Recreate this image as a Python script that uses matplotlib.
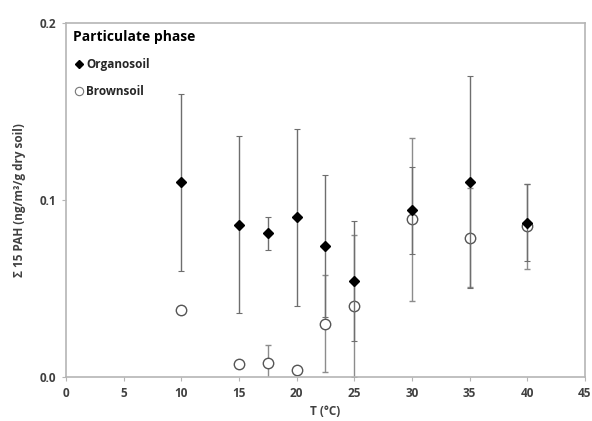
import numpy as np
import matplotlib.pyplot as plt
from matplotlib.lines import Line2D

# Температуры и значения
temp = [10, 15, 17.5, 20, 22.5, 25, 30, 35, 40]

organo = [0.110, 0.086, 0.081, 0.090, 0.074, 0.054, 0.094, 0.110, 0.087]
organo_err = [0.050, 0.050, 0.0095, 0.050, 0.040, 0.034, 0.0245, 0.060, 0.0217]

brown = [0.038, 0.007, 0.008, 0.0036, 0.030, 0.040, 0.089, 0.0785, 0.085]
brown_err = [0.002, 0.0, 0.010, 0.002, 0.0275, 0.040, 0.046, 0.028, 0.024]

xticks = [0, 5, 10, 15, 20, 25, 30, 35, 40, 45]
yticks = [0.0, 0.1, 0.2]

plt.rcParams['font.family'] = ['Open Sans', 'DejaVu Sans']

fig = plt.figure(figsize=(5.92, 4.21), dpi=100)
ax = fig.add_axes([0.1115, 0.105, 0.8765, 0.841])

#Ошибки
ax.errorbar(temp, brown, yerr=brown_err, fmt='o', mfc='white', mec='#555555',
            mew=1.0, ms=7.5, ecolor='#8c8c8c', elinewidth=1.0, capsize=2.5,
            capthick=0.8, zorder=2)
ax.errorbar(temp, organo, yerr=organo_err, fmt='D', color='black', ms=5.5,
            ecolor='#6e6e6e', elinewidth=1.0, capsize=2.5, capthick=0.8,
            zorder=3)

ax.set_xlim(0, 45)
ax.set_ylim(0, 0.2)
ax.set_xticks(xticks)
ax.set_yticks(yticks)
ax.set_yticklabels([f"{v:.1f}" for v in yticks])

for lab in ax.get_xticklabels() + ax.get_yticklabels():
    lab.set_fontweight('bold')
    lab.set_color('#404040')
    lab.set_fontsize(8.5)

for s in ax.spines.values():
    s.set_color('#b5b5b5')
    s.set_linewidth(1.2)
ax.tick_params(colors='#b5b5b5', length=3, width=0.8, labelcolor='#404040', pad=4)

ax.set_xlabel("T (°C)", fontsize=8.5, fontweight='bold', color='#404040', labelpad=4)
ax.set_ylabel("Σ 15 PAH (ng/m³/g dry soil)", fontsize=8.5, fontweight='bold',
              color='#404040', labelpad=10)

#Легенда без линий ошибок
handles = [
    Line2D([], [], ls='none', marker='D', color='black', ms=4.5),
    Line2D([], [], ls='none', marker='o', mfc='white', mec='#777777', ms=6, mew=0.8),
]
leg = ax.legend(handles, ['Organosoil', 'Brownsoil'], loc='upper left', frameon=False,
                title="Particulate phase", alignment='left', handletextpad=0.1,
                handlelength=1.0, labelspacing=1.2, borderaxespad=0.2,
                prop={'weight': 'bold', 'size': 8.5},
                title_fontproperties={'weight': 'bold', 'size': 10})
for t in leg.get_texts():
    t.set_color('#262626')

fig.savefig("out.png", dpi=100)
